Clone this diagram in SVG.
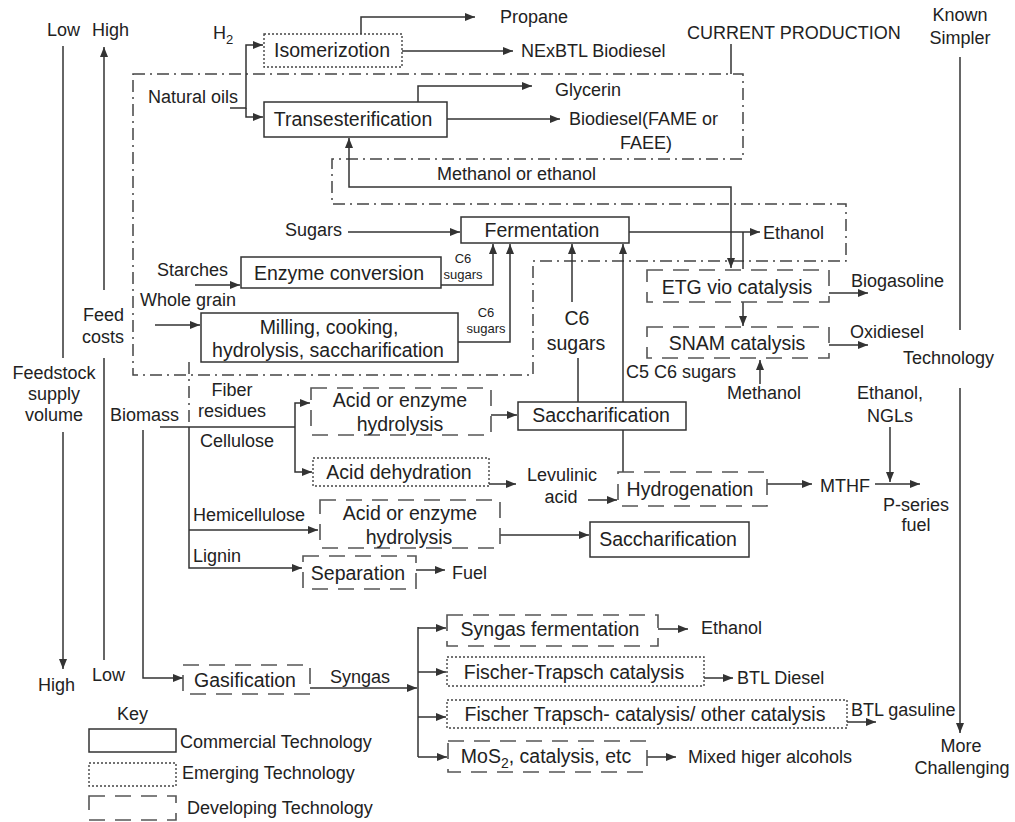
<svg xmlns="http://www.w3.org/2000/svg" width="1015" height="822" viewBox="0 0 1015 822">
<defs>
<marker id="ah" viewBox="0 0 10 8" refX="10" refY="4" markerWidth="10" markerHeight="8" markerUnits="userSpaceOnUse" orient="auto-start-reverse">
<path d="M0,0 L10,4 L0,8 z" fill="#333"/>
</marker>
<style>
text{font-family:"Liberation Sans",Arial,sans-serif;fill:#222}
.t{font-size:18px}
.b{font-size:19.5px;text-anchor:middle}
.s{font-size:13px;text-anchor:middle}
.m{text-anchor:middle}
.c{fill:none;stroke:#333;stroke-width:1.5}
.a{marker-end:url(#ah)}
.sol{fill:#fff;stroke:#333;stroke-width:1.5}
.dot{fill:#fff;stroke:#444;stroke-width:1.4;stroke-dasharray:2 2}
.dsh{fill:#fff;stroke:#555;stroke-width:1.6;stroke-dasharray:16 10}
.dd{fill:none;stroke:#444;stroke-width:1.5;stroke-dasharray:12 5 2 5}
</style>
</defs>
<rect width="1015" height="822" fill="#fff"/>

<g id="enclosures">
<path class="dd" d="M133,74 H743 V159 H332 V204 H846 V261 H533 V375 H133 Z"/>
<path class="dd" d="M189,362 V427"/>
</g>

<g id="connectors">
<path class="c" d="M731,44 V74"/>
<path class="c" d="M63,46 V358"/>
<path class="c a" d="M63,432 V669"/>
<path class="c a" d="M104,290 V47"/>
<path class="c" d="M104,358 V660"/>
<path class="c" d="M960,57 V330"/>
<path class="c a" d="M960,388 V733"/>
<path class="c a" d="M230,108 H246 V45 H263"/>
<path class="c a" d="M246,108 V117 H263"/>
<path class="c a" d="M361,34 V17 H475"/>
<path class="c a" d="M402,51 H513"/>
<path class="c a" d="M418,102 V86 H532"/>
<path class="c a" d="M447,119 H560"/>
<path class="c a" d="M349,138 V187 H731 V268" style="marker-start:url(#ah)"/>
<path class="c a" d="M348,232 H460"/>
<path class="c a" d="M629,232 H760"/>
<path class="c" d="M743,232 V269"/>
<path class="c a" d="M195,285 H240"/>
<path class="c a" d="M441,285 H493 V244"/>
<path class="c a" d="M155,325 H200"/>
<path class="c a" d="M458,342 H510 V244"/>
<path class="c a" d="M572,302 V244"/>
<path class="c" d="M578,358 V402"/>
<path class="c a" d="M623,472 V244"/>
<path class="c a" d="M829,293 H868"/>
<path class="c a" d="M743,302 V326"/>
<path class="c a" d="M829,345 H868"/>
<path class="c a" d="M760,384 V360"/>
<path class="c" d="M160,427 H295"/>
<path class="c a" d="M295,427 V403 H310"/>
<path class="c a" d="M295,427 V472 H312"/>
<path class="c a" d="M491,415 H517"/>
<path class="c a" d="M489,484 H516"/>
<path class="c a" d="M588,500 H617"/>
<path class="c a" d="M767,484 H812"/>
<path class="c a" d="M875,484 H920"/>
<path class="c a" d="M890,427 V482"/>
<path class="c a" d="M189,427 V568 H302"/>
<path class="c a" d="M189,530 H318"/>
<path class="c a" d="M500,535 H589"/>
<path class="c a" d="M416,570 H445"/>
<path class="c a" d="M143,430 V678 H183"/>
<path class="c a" d="M310,688 H417"/>
<path class="c" d="M418,627 V757"/>
<path class="c a" d="M418,628 H446"/>
<path class="c a" d="M418,672 H446"/>
<path class="c a" d="M418,717 H446"/>
<path class="c a" d="M418,757 H447"/>
<path class="c a" d="M658,629 H688"/>
<path class="c a" d="M704,678 H733"/>
<path class="c a" d="M847,722 H876"/>
<path class="c a" d="M647,757 H676"/>
</g>

<g id="n-isomerization"><rect class="dot" x="264" y="34" width="138" height="33"/><text class="b" x="332" y="57">Isomerizotion</text></g>
<g id="n-transesterification"><rect class="sol" x="264" y="102" width="183" height="35"/><text class="b" x="353" y="126">Transesterification</text></g>
<g id="n-fermentation"><rect class="sol" x="461" y="217" width="168" height="26"/><text class="b" x="542" y="237">Fermentation</text></g>
<g id="n-enzyme"><rect class="sol" x="241" y="257" width="200" height="31"/><text class="b" x="339" y="280">Enzyme conversion</text></g>
<g id="n-milling"><rect class="sol" x="201" y="313" width="257" height="49"/><text class="b" x="329" y="334">Milling, cooking,</text><text class="b" x="328" y="357">hydrolysis, saccharification</text></g>
<g id="n-etg"><rect class="dsh" x="647" y="270" width="182" height="32"/><text class="b" x="737" y="294">ETG vio catalysis</text></g>
<g id="n-snam"><rect class="dsh" x="647" y="327" width="182" height="31"/><text class="b" x="737" y="350">SNAM catalysis</text></g>
<g id="n-hydrolysis1"><rect class="dsh" x="311" y="388" width="180" height="47"/><text class="b" x="400" y="407">Acid or enzyme</text><text class="b" x="400" y="431">hydrolysis</text></g>
<g id="n-sacch1"><rect class="sol" x="518" y="402" width="168" height="28"/><text class="b" x="601" y="422">Saccharification</text></g>
<g id="n-dehydration"><rect class="dot" x="313" y="458" width="176" height="28"/><text class="b" x="399" y="479">Acid dehydration</text></g>
<g id="n-hydrogenation"><rect class="dsh" x="618" y="472" width="149" height="34"/><text class="b" x="690" y="496">Hydrogenation</text></g>
<g id="n-hydrolysis2"><rect class="dsh" x="320" y="500" width="180" height="48"/><text class="b" x="410" y="520">Acid or enzyme</text><text class="b" x="409" y="544">hydrolysis</text></g>
<g id="n-sacch2"><rect class="sol" x="590" y="522" width="159" height="35"/><text class="b" x="668" y="546">Saccharification</text></g>
<g id="n-separation"><rect class="dsh" x="303" y="556" width="113" height="33"/><text class="b" x="358" y="580">Separation</text></g>
<g id="n-gasification"><rect class="dsh" x="183" y="665" width="127" height="29"/><text class="b" x="245" y="687">Gasification</text></g>
<g id="n-syngasferm"><rect class="dsh" x="447" y="615" width="211" height="31"/><text class="b" x="550" y="636">Syngas fermentation</text></g>
<g id="n-ft"><rect class="dot" x="447" y="657" width="257" height="29"/><text class="b" x="574" y="679">Fischer-Trapsch catalysis</text></g>
<g id="n-ftother"><rect class="dot" x="447" y="700" width="400" height="28"/><text class="b" x="645" y="721">Fischer Trapsch- catalysis/ other catalysis</text></g>
<g id="n-mos2"><rect class="dsh" x="448" y="741" width="199" height="31"/><text class="b" x="546" y="763">MoS<tspan font-size="14" dy="5">2</tspan><tspan dy="-5">, catalysis, etc</tspan></text></g>

<g id="labels">
<text class="t" x="47" y="36">Low</text>
<text class="t" x="92" y="36">High</text>
<text class="t" x="213" y="39">H<tspan font-size="13" dy="5">2</tspan></text>
<text class="t" x="500" y="23">Propane</text>
<text class="t" x="521" y="57">NExBTL Biodiesel</text>
<text class="t" x="687" y="39">CURRENT PRODUCTION</text>
<text class="t m" x="960" y="21">Known</text>
<text class="t m" x="960" y="44">Simpler</text>
<text class="t" x="148" y="103">Natural oils</text>
<text class="t" x="555" y="96">Glycerin</text>
<text class="t" x="569" y="125">Biodiesel(FAME or</text>
<text class="t" x="620" y="149">FAEE)</text>
<text class="t" x="437" y="180">Methanol or ethanol</text>
<text class="t" x="285" y="236">Sugars</text>
<text class="t" x="763" y="239">Ethanol</text>
<text class="t" x="157" y="276">Starches</text>
<text class="t" x="140" y="306">Whole grain</text>
<text class="t" x="124" y="321" text-anchor="end">Feed</text>
<text class="t" x="124" y="343" text-anchor="end">costs</text>
<text class="s" x="463" y="263">C6</text>
<text class="s" x="463" y="279">sugars</text>
<text class="s" x="486" y="317">C6</text>
<text class="s" x="486" y="333">sugars</text>
<text class="b" x="577" y="325">C6</text>
<text class="b" x="576" y="350">sugars</text>
<text class="t" x="851" y="287">Biogasoline</text>
<text class="t" x="850" y="338">Oxidiesel</text>
<text class="t" x="903" y="364">Technology</text>
<text class="t" x="626" y="378">C5 C6 sugars</text>
<text class="t" x="727" y="399">Methanol</text>
<text class="t m" x="890" y="399">Ethanol,</text>
<text class="t m" x="890" y="422">NGLs</text>
<text class="t m" x="54" y="379">Feedstock</text>
<text class="t m" x="54" y="400">supply</text>
<text class="t m" x="54" y="421">volume</text>
<text class="t" x="110" y="421">Biomass</text>
<text class="t m" x="232" y="396">Fiber</text>
<text class="t m" x="232" y="417">residues</text>
<text class="t" x="200" y="447">Cellulose</text>
<text class="t m" x="562" y="481">Levulinic</text>
<text class="t m" x="561" y="503">acid</text>
<text class="t" x="820" y="492">MTHF</text>
<text class="t m" x="916" y="511">P-series</text>
<text class="t m" x="916" y="531">fuel</text>
<text class="t" x="193" y="521">Hemicellulose</text>
<text class="t" x="193" y="562">Lignin</text>
<text class="t" x="452" y="579">Fuel</text>
<text class="t" x="38" y="691">High</text>
<text class="t" x="92" y="681">Low</text>
<text class="t" x="330" y="683">Syngas</text>
<text class="t" x="701" y="634">Ethanol</text>
<text class="t" x="737" y="684">BTL Diesel</text>
<text class="t" x="851" y="716">BTL gasuline</text>
<text class="t" x="688" y="763">Mixed higer alcohols</text>
<text class="t m" x="961" y="752">More</text>
<text class="t m" x="962" y="774">Challenging</text>
</g>

<g id="key">
<text class="t" x="117" y="720">Key</text>
<rect class="sol" x="89" y="729" width="87" height="23"/>
<text class="t" x="180" y="748">Commercial Technology</text>
<rect class="dot" x="89" y="763" width="87" height="23"/>
<text class="t" x="182" y="779">Emerging Technology</text>
<rect class="dsh" x="89" y="796" width="87" height="24"/>
<text class="t" x="187" y="814">Developing Technology</text>
</g>
</svg>
